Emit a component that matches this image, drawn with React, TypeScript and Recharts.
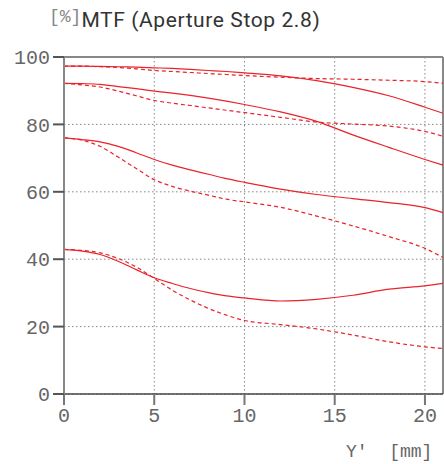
import { LineChart, Line, XAxis, YAxis, CartesianGrid, ReferenceLine } from "recharts";

const imageHeights = [0, 1, 2, 3, 4, 5, 6, 7, 8, 9, 10, 12, 14, 16, 18, 20, 21];

// solid = sagittal, dashed = meridional
const s1 = [97.3, 97.3, 97.2, 97.1, 97.0, 96.8, 96.6, 96.3, 96.0, 95.7, 95.3, 94.4, 93.0, 91.0, 88.5, 85.1, 83.3];
const d1 = [97.3, 97.3, 97.1, 96.9, 96.5, 96.0, 95.7, 95.4, 95.1, 94.8, 94.5, 94.0, 93.6, 93.4, 93.1, 92.7, 92.2];
const s2 = [92.2, 92.1, 91.9, 91.2, 90.6, 89.9, 89.3, 88.6, 87.8, 86.9, 85.9, 83.7, 80.9, 76.9, 73.2, 69.6, 67.9];
const d2 = [92.2, 91.7, 91.1, 89.9, 88.5, 87.1, 86.3, 85.6, 84.9, 84.2, 83.5, 82.1, 80.7, 80.1, 79.5, 77.9, 76.5];
const s3 = [76.0, 75.5, 74.8, 73.5, 71.6, 69.6, 67.9, 66.5, 65.2, 63.9, 62.8, 60.8, 59.2, 58.0, 56.8, 55.3, 53.8];
const d3 = [76.0, 75.3, 73.5, 70.3, 66.9, 63.6, 61.6, 60.2, 59.0, 57.8, 57.0, 55.4, 52.8, 49.9, 46.7, 43.2, 40.5];
const s4 = [42.9, 42.4, 41.4, 39.4, 36.9, 34.5, 32.8, 31.3, 30.1, 29.1, 28.5, 27.6, 28.1, 29.3, 31.1, 32.1, 32.8];
const d4 = [42.9, 42.6, 41.9, 40.2, 37.7, 34.3, 30.8, 27.9, 25.4, 23.4, 21.8, 20.6, 19.3, 17.5, 15.5, 14.0, 13.5];

const xTicks = [0, 5, 10, 15, 20];
const yTicks = [0, 20, 40, 60, 80, 100];

const data = imageHeights.map((y, i) => ({
  y,
  s1: s1[i],
  d1: d1[i],
  s2: s2[i],
  d2: d2[i],
  s3: s3[i],
  d3: d3[i],
  s4: s4[i],
  d4: d4[i],
}));

const RED = "#e8232b";
const MONO = "'Liberation Mono', monospace";
const tickStyle = { fill: "#666", fontSize: 20, fontFamily: MONO };

export default function App() {
  const series = ["s1", "d1", "s2", "d2", "s3", "d3", "s4", "d4"];
  return (
    <div style={{ position: "absolute", left: 0, top: 0, width: 444, height: 464 }}>
      <div style={{ position: "absolute", left: 49, top: 6, whiteSpace: "nowrap", lineHeight: "28px" }}>
        <span style={{ fontFamily: MONO, fontSize: 18, color: "#888", verticalAlign: "top", lineHeight: "22px" }}>[%]</span>
        <span style={{ fontFamily: "Roboto, sans-serif", fontSize: 21, color: "#333", letterSpacing: 0.6 }}>
          MTF (Aperture Stop 2.8)
        </span>
      </div>
      <div
        style={{
          position: "absolute",
          left: 346,
          top: 442,
          fontFamily: MONO,
          fontSize: 18,
          lineHeight: "20px",
          color: "#666",
          whiteSpace: "pre",
        }}
      >
        {"Y'  [mm]"}
      </div>
      <LineChart
        width={444}
        height={464}
        data={data}
        margin={{ top: 57, right: 1, left: 0, bottom: 0 }}
      >
        <CartesianGrid stroke="#888" strokeDasharray="1.5 2.5" />
        <XAxis
          dataKey="y"
          type="number"
          domain={[0, 21]}
          ticks={xTicks}
          height={70}
          tickSize={11}
          tickMargin={3}
          stroke="#444"
          strokeWidth={1.5}
          tick={tickStyle}
          tickLine={{ stroke: "#777", strokeWidth: 2 }}
        />
        <YAxis
          type="number"
          domain={[0, 100]}
          ticks={yTicks}
          width={64}
          tickSize={11}
          tickMargin={3}
          stroke="#888"
          strokeWidth={2}
          tick={tickStyle}
          tickLine={{ stroke: "#555", strokeWidth: 2 }}
        />
        <ReferenceLine y={100} stroke="#888" strokeWidth={2} />
        <ReferenceLine x={21} stroke="#888" strokeWidth={2} />
        {series.map((k) => (
          <Line
            key={k}
            dataKey={k}
            type="monotone"
            stroke={RED}
            strokeWidth={1.2}
            strokeDasharray={k.startsWith("d") ? "4 3" : undefined}
            dot={false}
            isAnimationActive={false}
          />
        ))}
      </LineChart>
    </div>
  );
}
